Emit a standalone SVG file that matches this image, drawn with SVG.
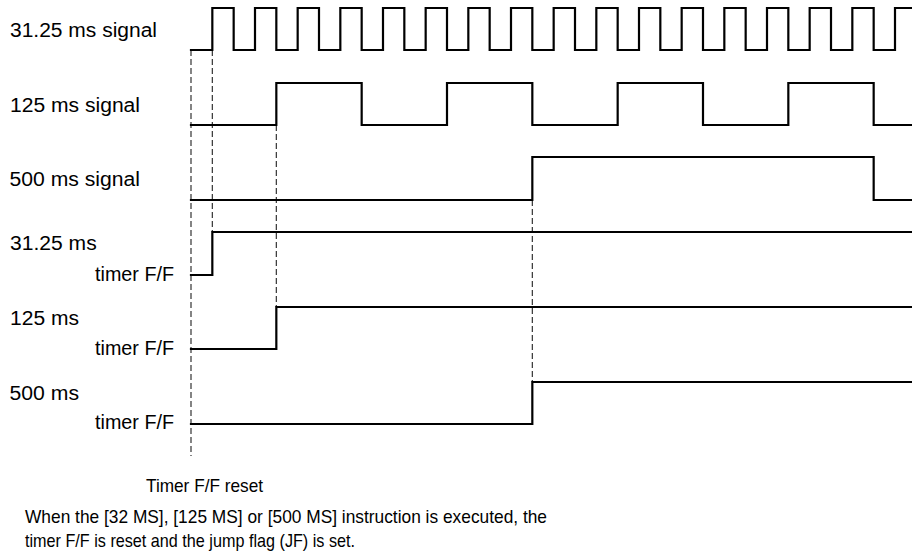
<svg xmlns="http://www.w3.org/2000/svg" width="912" height="560" viewBox="0 0 912 560">
<style>
.lbl{font-family:"Liberation Sans",Arial,sans-serif;font-size:20px;fill:#000}
.note{font-family:"Liberation Sans",Arial,sans-serif;font-size:19px;fill:#000}
.sig{fill:none;stroke:#000;stroke-width:2.2;stroke-linejoin:miter;stroke-linecap:square}
.dash{fill:none;stroke:#333;stroke-width:1.2;stroke-dasharray:6 3}
</style>
<rect width="912" height="560" fill="#fff"/>
<g id="connectors">
<path class="dash" d="M191,50 V456"/>
<path class="dash" d="M212.33,50 V232"/>
<path class="dash" d="M276.33,125 V307"/>
<path class="dash" d="M532.33,200 V382"/>
</g>
<g id="sig31">
<text class="lbl" x="10" y="37" textLength="147" lengthAdjust="spacingAndGlyphs">31.25 ms signal</text>
<path class="sig" d="M191,50 H212.33 V8 H233.67 V50 H255 V8 H276.33 V50 H297.67 V8 H319 V50 H340.33 V8 H361.67 V50 H383 V8 H404.33 V50 H425.67 V8 H447 V50 H468.33 V8 H489.67 V50 H511 V8 H532.33 V50 H553.67 V8 H575 V50 H596.33 V8 H617.67 V50 H639 V8 H660.33 V50 H681.67 V8 H703 V50 H724.33 V8 H745.67 V50 H767 V8 H788.33 V50 H809.67 V8 H831 V50 H852.33 V8 H873.67 V50 H895 V8 H913"/>
</g>
<g id="sig125">
<text class="lbl" x="10" y="111.7" textLength="130" lengthAdjust="spacingAndGlyphs">125 ms signal</text>
<path class="sig" d="M191,125 H276.33 V83 H361.67 V125 H447 V83 H532.33 V125 H617.67 V83 H703 V125 H788.33 V83 H873.67 V125 H913"/>
</g>
<g id="sig500">
<text class="lbl" x="9.5" y="185.7" textLength="130.5" lengthAdjust="spacingAndGlyphs">500 ms signal</text>
<path class="sig" d="M191,200 H532.33 V157 H873.67 V200 H913"/>
</g>
<g id="ff31">
<text class="lbl" x="10" y="250" textLength="86.7" lengthAdjust="spacingAndGlyphs">31.25 ms</text>
<text class="lbl" x="95" y="280.7" textLength="79" lengthAdjust="spacingAndGlyphs">timer F/F</text>
<path class="sig" d="M191,275 H212.33 V232 H913"/>
</g>
<g id="ff125">
<text class="lbl" x="10" y="325" textLength="69" lengthAdjust="spacingAndGlyphs">125 ms</text>
<text class="lbl" x="95" y="355" textLength="79" lengthAdjust="spacingAndGlyphs">timer F/F</text>
<path class="sig" d="M191,349 H276.33 V307 H913"/>
</g>
<g id="ff500">
<text class="lbl" x="9.5" y="400" textLength="69.5" lengthAdjust="spacingAndGlyphs">500 ms</text>
<text class="lbl" x="95" y="429.3" textLength="79" lengthAdjust="spacingAndGlyphs">timer F/F</text>
<path class="sig" d="M191,424 H532.33 V382 H913"/>
</g>
<g id="notes">
<text class="note" x="146" y="492" textLength="117" lengthAdjust="spacingAndGlyphs">Timer F/F reset</text>
<text class="note" x="25" y="523.3" textLength="522" lengthAdjust="spacingAndGlyphs">When the [32 MS], [125 MS] or [500 MS] instruction is executed, the</text>
<text class="note" x="25" y="547.3" textLength="330" lengthAdjust="spacingAndGlyphs">timer F/F is reset and the jump flag (JF) is set.</text>
</g>
</svg>
